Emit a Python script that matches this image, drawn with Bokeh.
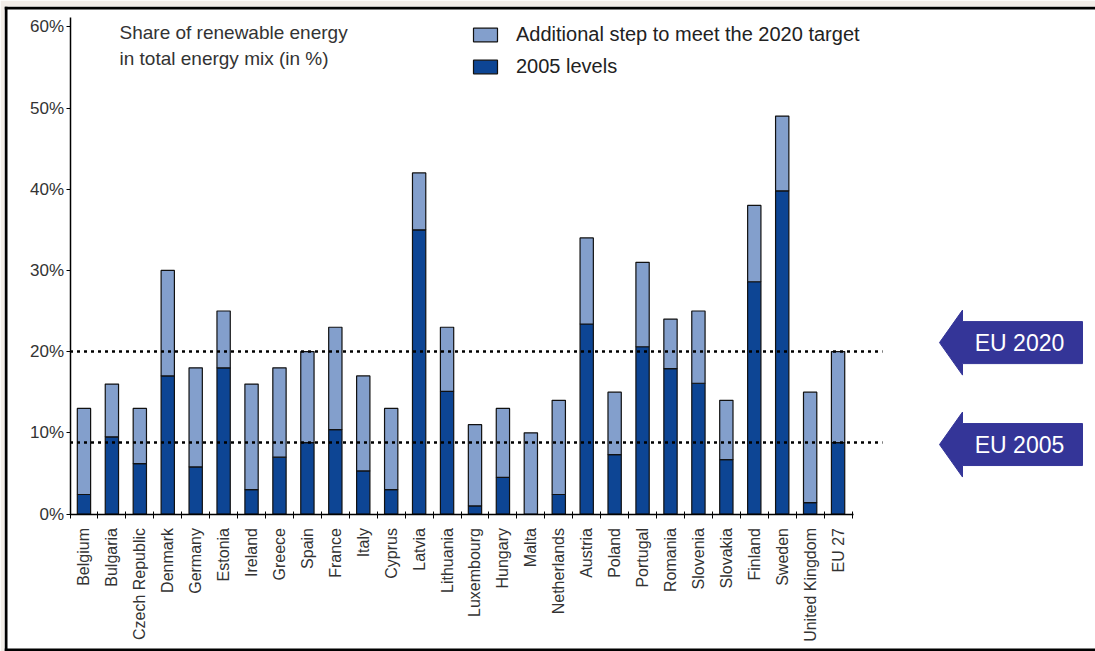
import math
from bokeh.plotting import figure
from bokeh.models import (Range1d, LinearAxis, FixedTicker, PrintfTickFormatter,
                          ColumnDataSource, Legend, LegendItem, Label, BoxAnnotation)
from bokeh.embed import file_html
from bokeh.resources import INLINE

# ---------------- data ----------------
countries = ["Belgium", "Bulgaria", "Czech Republic", "Denmark", "Germany", "Estonia",
             "Ireland", "Greece", "Spain", "France", "Italy", "Cyprus", "Latvia",
             "Lithuania", "Luxembourg", "Hungary", "Malta", "Netherlands", "Austria",
             "Poland", "Portugal", "Romania", "Slovenia", "Slovakia", "Finland",
             "Sweden", "United Kingdom", "EU 27"]
share_2005 = [2.4, 9.5, 6.2, 17.0, 5.8, 18.0, 3.0, 7.0, 8.8, 10.4, 5.3, 3.0, 35.0,
              15.1, 1.0, 4.5, 0.0, 2.4, 23.4, 7.3, 20.6, 17.9, 16.1, 6.7, 28.6,
              39.8, 1.4, 8.8]
target_2020 = [13, 16, 13, 30, 18, 25, 16, 18, 20, 23, 17, 13, 42, 23, 11, 13, 10,
               14, 34, 15, 31, 24, 25, 14, 38, 49, 15, 20]
y_ticks = [0, 10, 20, 30, 40, 50, 60]
series_labels = ["Additional step to meet the 2020 target", "2005 levels"]
title_text = "Share of renewable energy\nin total energy mix (in %)"
eu_labels = ["EU 2020", "EU 2005"]
eu_levels = [target_2020[-1], share_2005[-1]]

# ---------------- layout constants (pixels) ----------------
W, H = 1095, 651
FRAME_L, FRAME_T = 4, 6
AX_X0 = 69.5          # pixel of left boundary of first category
PX_CAT = 27.93        # pixels per category
AX_Y0 = 513.5         # pixel of 0 %
PX_PCT = 8.12         # pixels per percent

def px2x(px):
    return -0.5 + (px - AX_X0) / PX_CAT

def px2y(py):
    return (AX_Y0 - py) / PX_PCT

DARK = "#0d4594"
LIGHT = "#839fcc"
ARROW = "#343598"
FONT = "Liberation Sans"
n = len(countries)
xs = list(range(n))

p = figure(width=W, height=H,
           x_range=Range1d(px2x(FRAME_L), px2x(W)),
           y_range=Range1d(px2y(H), px2y(FRAME_T)),
           x_axis_type=None, y_axis_type=None,
           toolbar_location=None, output_backend="svg",
           min_border_left=FRAME_L, min_border_top=FRAME_T,
           min_border_right=0, min_border_bottom=0,
           border_fill_color="#f2ede8", background_fill_color="white",
           outline_line_color=None)

# black frame edges (left, top, bottom)
p.add_layout(BoxAnnotation(right=px2x(7), fill_color="black", fill_alpha=1, line_color=None))
p.add_layout(BoxAnnotation(bottom=px2y(9), fill_color="black", fill_alpha=1, line_color=None))
p.add_layout(BoxAnnotation(top=px2y(648), fill_color="black", fill_alpha=1, line_color=None))

src = ColumnDataSource(dict(x=xs, base=[0] * n, s05=share_2005, t20=target_2020))

bar_w = 13.3 / PX_CAT
r_dark = p.vbar(x="x", bottom="base", top="s05", width=bar_w, source=src,
                fill_color=DARK, line_color="#111111", line_width=1.2)
r_light = p.vbar(x="x", bottom="s05", top="t20", width=bar_w, source=src,
                 fill_color=LIGHT, line_color="#111111", line_width=1.2)

# dotted EU reference lines
p.segment(x0=[-0.5] * len(eu_levels), x1=[px2x(882)] * len(eu_levels),
          y0=eu_levels, y1=eu_levels, line_color="black", line_width=2.5,
          line_dash="3 4")

# axes
xaxis = LinearAxis(ticker=FixedTicker(ticks=xs, minor_ticks=[i - 0.5 for i in range(n + 1)]),
                   major_label_overrides={i: c for i, c in enumerate(countries)},
                   fixed_location=0, bounds=(-0.5, n - 0.45),
                   axis_line_color="black", axis_line_width=1.5,
                   major_tick_line_color=None, major_tick_in=0, major_tick_out=0,
                   minor_tick_line_color="black", minor_tick_in=3, minor_tick_out=4,
                   major_label_orientation=math.pi / 2, major_label_standoff=10,
                   major_label_text_font=FONT, major_label_text_font_size="16px",
                   major_label_text_color="#333333")
p.add_layout(xaxis, "below")

yaxis = LinearAxis(ticker=FixedTicker(ticks=y_ticks, minor_ticks=[]),
                   formatter=PrintfTickFormatter(format="%d%%"),
                   fixed_location=-0.5, bounds=(0, 61.1),
                   axis_line_color="black", axis_line_width=1.5,
                   major_tick_line_color="black", major_tick_in=0, major_tick_out=4,
                   minor_tick_line_color=None, major_label_standoff=2,
                   major_label_text_font=FONT, major_label_text_font_size="17px",
                   major_label_text_color="#333333")
p.add_layout(yaxis, "left")

# chart heading
p.add_layout(Label(x=px2x(119), y=px2y(21), text=title_text, text_font=FONT,
                   text_font_size="19px", text_color="#333333", text_baseline="top",
                   text_line_height=1.25))

# legend
legend = Legend(items=[LegendItem(label=series_labels[0], renderers=[r_light]),
                       LegendItem(label=series_labels[1], renderers=[r_dark])],
                location=(466, 573), orientation="vertical",
                border_line_color=None, background_fill_alpha=0,
                padding=0, margin=0, spacing=9, glyph_width=30, glyph_height=17,
                label_standoff=16, label_height=22, label_text_font=FONT,
                label_text_font_size="20px", label_text_color="#222222")
p.add_layout(legend)

# arrows pointing at the EU levels
nudge_px = [9, -2]
tip, head_base, right_end = 939, 962, 1082
head_h, body_h = 32.5, 21
arrow_xs, arrow_ys = [], []
for lvl, nd in zip(eu_levels, nudge_px):
    cy = AX_Y0 - lvl * PX_PCT - nd
    pts = [(tip, cy), (head_base, cy - head_h), (head_base, cy - body_h),
           (right_end, cy - body_h), (right_end, cy + body_h),
           (head_base, cy + body_h), (head_base, cy + head_h)]
    arrow_xs.append([px2x(a) for a, b in pts])
    arrow_ys.append([px2y(b) for a, b in pts])
p.patches(xs=arrow_xs, ys=arrow_ys, fill_color=ARROW, line_color=ARROW)
for lab, lvl, nd in zip(eu_labels, eu_levels, nudge_px):
    cy = AX_Y0 - lvl * PX_PCT - nd
    p.add_layout(Label(x=px2x(1019), y=px2y(cy), text=lab, text_align="center",
                       text_baseline="middle", text_color="white", text_font=FONT,
                       text_font_size="23px"))

open("out.html", "w").write(file_html(p, INLINE))
